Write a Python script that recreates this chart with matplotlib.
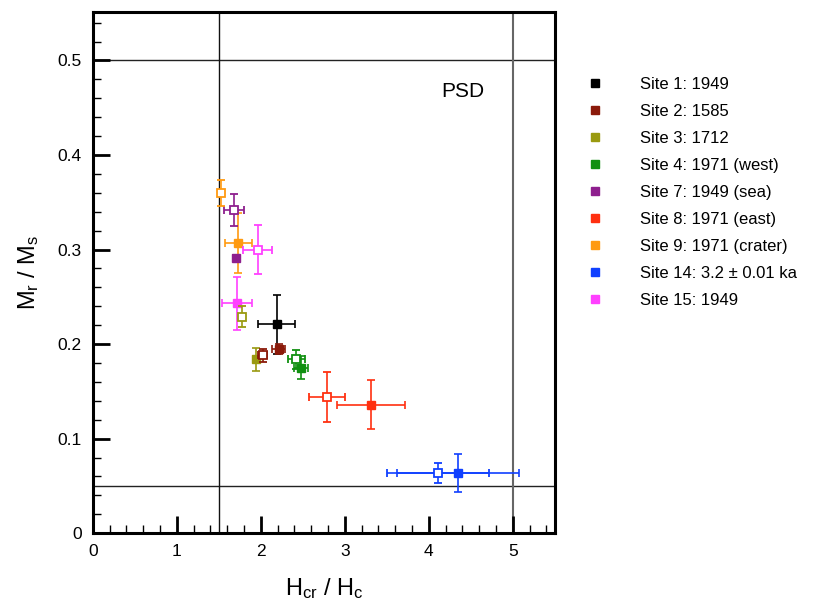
import matplotlib
matplotlib.use("Agg")
import matplotlib.pyplot as plt
from matplotlib.ticker import MultipleLocator
from matplotlib.lines import Line2D

plt.rcParams["font.family"] = ["Liberation Sans", "DejaVu Sans"]
plt.rcParams["mathtext.fontset"] = "custom"
plt.rcParams["mathtext.rm"] = "Liberation Sans"
plt.rcParams["mathtext.it"] = "Liberation Sans:italic"

# Site labels and colours
labels = [
    "Site 1: 1949", "Site 2: 1585", "Site 3: 1712", "Site 4: 1971 (west)",
    "Site 7: 1949 (sea)", "Site 8: 1971 (east)", "Site 9: 1971 (crater)",
    "Site 14: 3.2 \u00b1 0.01 ka", "Site 15: 1949",
]
colors = ["#000000", "#8b1a0a", "#9a9a10", "#119011", "#8e1f8e",
          "#ff3010", "#ff9a10", "#1040ff", "#ff40ff"]

# Filled symbols (one per site)
filled_x = [2.19, 2.21, 1.94, 2.48, 1.70, 3.31, 1.73, 4.345, 1.72]
filled_y = [0.221, 0.195, 0.184, 0.175, 0.291, 0.136, 0.307, 0.064, 0.243]
filled_xerr = [0.22, 0.08, 0.03, 0.08, 0.02, 0.40, 0.16, 0.73, 0.18]
filled_yerr = [0.031, 0.005, 0.012, 0.012, 0.003, 0.026, 0.032, 0.020, 0.028]

# Open symbols (None = no open point for that site)
open_x = [None, 2.02, 1.78, 2.42, 1.68, 2.79, 1.53, 4.11, 1.96]
open_y = [None, 0.188, 0.229, 0.184, 0.342, 0.144, 0.360, 0.064, 0.300]
open_xerr = [None, 0.05, 0.03, 0.10, 0.12, 0.215, 0.03, 0.61, 0.175]
open_yerr = [None, 0.007, 0.011, 0.010, 0.017, 0.026, 0.014, 0.0105, 0.026]

fig = plt.figure(figsize=(8.22, 6.10), dpi=100)
ax = fig.add_axes([0.113, 0.126, 0.562, 0.854])

# Day-plot boundary lines
ax.axhline(0.5, color="#222222", lw=1.0, zorder=1)
ax.axhline(0.05, color="#222222", lw=1.0, zorder=1)
ax.axvline(1.5, color="#111111", lw=1.0, zorder=1)
ax.axvline(5.0, color="#666666", lw=1.5, zorder=1)

for i in range(len(labels)):
    c = colors[i]
    ax.errorbar(filled_x[i], filled_y[i], xerr=filled_xerr[i], yerr=filled_yerr[i],
                fmt="s", ms=5.5, color=c, mfc=c, mec=c, ecolor=c,
                elinewidth=1.2, capsize=3, capthick=1.2, zorder=3)
    if open_x[i] is not None:
        ax.errorbar(open_x[i], open_y[i], xerr=open_xerr[i], yerr=open_yerr[i],
                    fmt="s", ms=5.5, color=c, mfc="white", mec=c, mew=1.3, ecolor=c,
                    elinewidth=1.2, capsize=3, capthick=1.2, zorder=4)

ax.text(4.4, 0.467, "PSD", fontsize=15, ha="center", va="center")

ax.set_xlim(0, 5.5)
ax.set_ylim(0, 0.551)
ax.xaxis.set_major_locator(MultipleLocator(1))
ax.xaxis.set_minor_locator(MultipleLocator(0.2))
ax.yaxis.set_minor_locator(MultipleLocator(0.02))
ax.set_yticks([0, 0.1, 0.2, 0.3, 0.4, 0.5])
ax.set_yticklabels(["0", "0.1", "0.2", "0.3", "0.4", "0.5"])
ax.tick_params(which="major", direction="in", length=12, width=2, labelsize=12.5, pad=8)
ax.tick_params(which="minor", direction="in", length=6, width=1)
for s in ax.spines.values():
    s.set_linewidth(2.2)

ax.set_xlabel(r"H$_{\mathrm{cr}}$ / H$_{\mathrm{c}}$", fontsize=17, labelpad=12)
ax.set_ylabel(r"M$_{\mathrm{r}}$ / M$_{\mathrm{s}}$", fontsize=17, labelpad=12)

handles = [Line2D([], [], marker="s", ls="", color=c, ms=5.5) for c in colors]
fig.legend(handles, labels, loc="upper left", bbox_to_anchor=(0.695, 0.898),
           frameon=False, fontsize=12, handletextpad=2.2, labelspacing=0.72,
           handlelength=1.0)

fig.savefig("out.png", dpi=100)
